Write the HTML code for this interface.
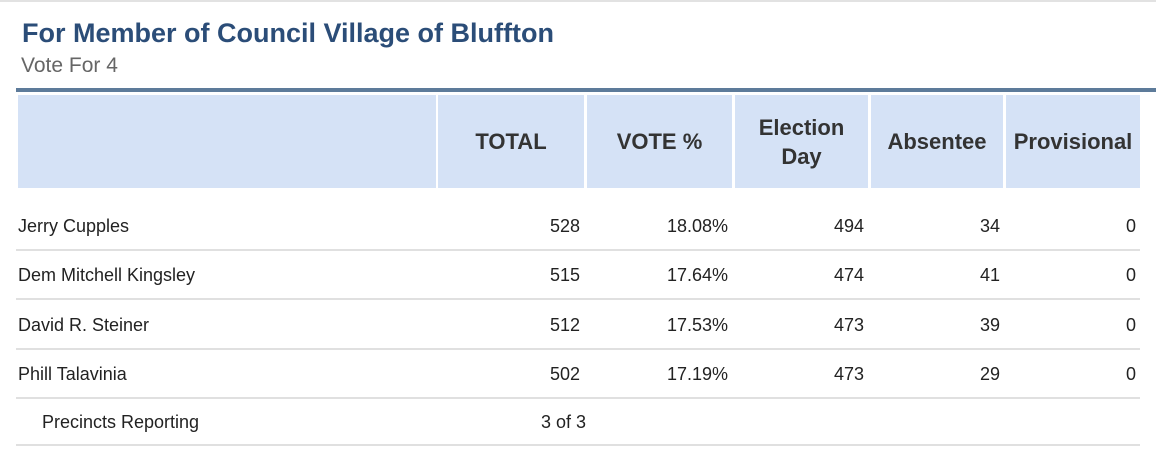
<!DOCTYPE html>
<html><head><meta charset="utf-8"><style>
body{margin:0;width:1156px;height:464px;background:#fff;position:relative;overflow:hidden;font-family:"Liberation Sans",sans-serif}
.a{position:absolute}
.h{position:absolute;top:95px;height:93px;background:#d5e2f6;display:flex;align-items:center;justify-content:center;text-align:center;font-weight:bold;font-size:22px;color:#333;line-height:29px}
.c{position:absolute;font-family:"Liberation Sans Narrow","Liberation Sans",sans-serif;font-size:18px;color:#222;line-height:20px}
.r{text-align:right}
.sep{position:absolute;left:16px;width:1124px;height:2px;background:#e0e0e0}
</style></head><body>
<div class="a" style="left:0;top:0;width:1156px;height:2px;background:#e2e2e2"></div>
<div class="a" style="left:22px;top:18px;font-size:27px;font-weight:bold;color:#2b4d78">For Member of Council Village of Bluffton</div>
<div class="a" style="left:21px;top:54px;font-size:21px;color:#666">Vote For 4</div>
<div class="a" style="left:16px;top:88px;width:1140px;height:4px;background:#5d7b9a"></div>
<div class="h" style="left:18px;width:418px"></div>
<div class="h" style="left:438px;width:146px">TOTAL</div>
<div class="h" style="left:587px;width:145px">VOTE %</div>
<div class="h" style="left:735px;width:133px">Election<br>Day</div>
<div class="h" style="left:871px;width:132px">Absentee</div>
<div class="h" style="left:1006px;width:134px">Provisional</div>
<div id="rows"></div>
<script>
const names=["Jerry Cupples","Dem Mitchell Kingsley","David R. Steiner","Phill Talavinia"];
const totals=[528,515,512,502];
const pcts=["18.08%","17.64%","17.53%","17.19%"];
const eday=[494,474,473,473];
const abs=[34,41,39,29];
const prov=[0,0,0,0];
const root=document.getElementById('rows');
function cell(txt,left,width,top,right,name){
  const d=document.createElement('div');
  d.className='c'+(right?' r':'');
  d.style.left=left+'px';d.style.width=width+'px';d.style.top=top+'px';
  d.textContent=txt;
  
  
  root.appendChild(d);
}
for(let i=0;i<names.length;i++){
  const y=216+i*49.3;
  cell(names[i],18,400,y,false,'candidate-name');
  cell(totals[i],440,140,y,true,'total-votes');
  cell(pcts[i],590,138,y,true,'vote-percent');
  cell(eday[i],740,124,y,true,'election-day-votes');
  cell(abs[i],875,125,y,true,'absentee-votes');
  cell(prov[i],1010,126,y,true,'provisional-votes');
  const s=document.createElement('div');
  s.className='sep';s.style.top=(249+i*49.3)+'px';
  
  
  root.appendChild(s);
}
cell('Precincts Reporting',42,300,412,false,'precincts-reporting-label');
cell('3 of 3',541,60,412,false,'precincts-reporting-value');
const s=document.createElement('div');
s.className='sep';s.style.top='444px';


root.appendChild(s);
</script>
</body></html>
